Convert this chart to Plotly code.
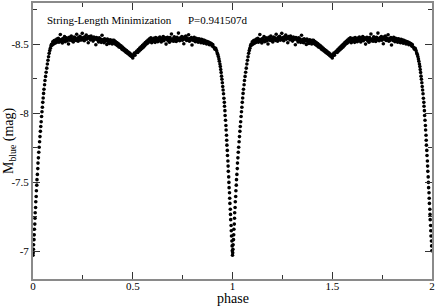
import plotly.graph_objects as go

# One cycle of the phased light curve (phase in [0,1)); repeated at phase+1 for the 2nd cycle
phase_cycle = [
    0.000, 0.001, 0.002, 0.003, 0.005, 0.006, 0.007, 0.009, 0.010, 0.011, 0.013, 0.014, 0.016, 0.017,
    0.019, 0.020, 0.022, 0.024, 0.025, 0.027, 0.029, 0.031, 0.033, 0.035, 0.037, 0.039, 0.041, 0.043,
    0.045, 0.047, 0.049, 0.051, 0.053, 0.055, 0.058, 0.060, 0.063, 0.066, 0.069, 0.072, 0.075, 0.078,
    0.081, 0.084, 0.087, 0.090, 0.093,
    0.096, 0.099, 0.103, 0.106, 0.110, 0.113, 0.117, 0.120, 0.123, 0.127, 0.130, 0.134, 0.137, 0.141,
    0.144, 0.147, 0.151, 0.154, 0.158, 0.161, 0.164, 0.168, 0.171, 0.175, 0.178, 0.182, 0.185, 0.188,
    0.192, 0.195, 0.199, 0.202, 0.206, 0.209, 0.212, 0.216, 0.219, 0.223, 0.226, 0.229, 0.233, 0.236,
    0.240, 0.243, 0.247, 0.250, 0.253, 0.257, 0.260, 0.264, 0.267, 0.270, 0.274, 0.277, 0.281, 0.284,
    0.288, 0.291, 0.294, 0.298, 0.301, 0.305, 0.308, 0.311, 0.315, 0.318, 0.322, 0.325, 0.329, 0.332,
    0.335, 0.339, 0.342, 0.346, 0.349, 0.352, 0.356, 0.359, 0.363, 0.366, 0.370, 0.373, 0.376, 0.380,
    0.383, 0.387, 0.390, 0.393, 0.397, 0.400,
    0.403, 0.406, 0.410, 0.413, 0.417, 0.420, 0.424, 0.427, 0.431, 0.434, 0.438, 0.441, 0.445, 0.448,
    0.452, 0.455, 0.459, 0.462, 0.466, 0.469, 0.473, 0.476, 0.480, 0.483, 0.487, 0.490, 0.494, 0.497,
    0.500, 0.502, 0.505, 0.508, 0.511, 0.514, 0.518, 0.521, 0.525, 0.528, 0.532, 0.535, 0.539, 0.542,
    0.546, 0.549, 0.553, 0.556, 0.560, 0.563, 0.567, 0.570, 0.574,
    0.577, 0.581, 0.584, 0.588, 0.591, 0.595, 0.598, 0.602, 0.605, 0.608, 0.612, 0.615, 0.619, 0.622,
    0.625, 0.629, 0.632, 0.636, 0.639, 0.643, 0.646, 0.649, 0.653, 0.656, 0.660, 0.663, 0.667, 0.670,
    0.674, 0.677, 0.680, 0.684, 0.687, 0.691, 0.694, 0.698, 0.701, 0.705, 0.708, 0.711, 0.715, 0.718,
    0.722, 0.725, 0.729, 0.732, 0.735, 0.739, 0.742, 0.746, 0.749, 0.753, 0.756, 0.759, 0.763, 0.766,
    0.770, 0.773, 0.777, 0.780, 0.784, 0.787, 0.790, 0.794, 0.797, 0.801, 0.804, 0.808, 0.811, 0.814,
    0.818, 0.821, 0.825, 0.828, 0.832, 0.835, 0.838, 0.842, 0.845, 0.849, 0.852, 0.856, 0.859, 0.863,
    0.866, 0.870, 0.873, 0.877, 0.880, 0.884, 0.887, 0.891, 0.894, 0.898, 0.901, 0.904,
    0.908, 0.912, 0.916, 0.920, 0.923, 0.926, 0.929, 0.932, 0.934, 0.937, 0.939, 0.941, 0.943, 0.945,
    0.947, 0.949, 0.951, 0.953, 0.955, 0.957, 0.959, 0.960, 0.962, 0.963, 0.965, 0.967, 0.968, 0.970,
    0.971, 0.972, 0.974, 0.975, 0.977, 0.978, 0.979, 0.981, 0.982, 0.983, 0.985, 0.986, 0.987, 0.989,
    0.990, 0.991, 0.993, 0.994, 0.995, 0.997, 0.998, 0.999,
]

mag_cycle = [
    -6.972, -6.990, -7.015, -7.048, -7.085, -7.120, -7.160, -7.198, -7.240, -7.280, -7.318, -7.360, -7.398, -7.440,
    -7.480, -7.520, -7.558, -7.600, -7.640, -7.678, -7.718, -7.755, -7.795, -7.832, -7.870, -7.905, -7.940, -7.978,
    -8.012, -8.045, -8.080, -8.112, -8.145, -8.175, -8.208, -8.238, -8.268, -8.298, -8.328, -8.358, -8.385, -8.410,
    -8.435, -8.455, -8.472, -8.488, -8.501,
    -8.495, -8.518, -8.502, -8.527, -8.509, -8.531, -8.514, -8.538, -8.521, -8.545, -8.516, -8.533, -8.572, -8.522,
    -8.537, -8.511, -8.543, -8.528, -8.556, -8.519, -8.534, -8.547, -8.525, -8.540, -8.503, -8.551, -8.530, -8.544,
    -8.560, -8.527, -8.541, -8.518, -8.553, -8.536, -8.548, -8.529, -8.574, -8.540, -8.523, -8.552, -8.538, -8.558,
    -8.531, -8.546, -8.580, -8.534, -8.549, -8.526, -8.555, -8.541, -8.568, -8.537, -8.550, -8.512, -8.557, -8.543,
    -8.533, -8.561, -8.539, -8.548, -8.524, -8.553, -8.536, -8.545, -8.498, -8.550, -8.533, -8.542, -8.518, -8.547,
    -8.530, -8.539, -8.515, -8.566, -8.527, -8.536, -8.512, -8.541, -8.524, -8.533, -8.500, -8.538, -8.521, -8.530,
    -8.507, -8.534, -8.518, -8.527, -8.503, -8.529,
    -8.512, -8.530, -8.505, -8.521, -8.498, -8.513, -8.491, -8.506, -8.482, -8.497, -8.478, -8.489, -8.466, -8.480,
    -8.459, -8.471, -8.452, -8.463, -8.444, -8.455, -8.436, -8.447, -8.428, -8.439, -8.419, -8.430, -8.412, -8.421,
    -8.402, -8.418, -8.427, -8.438, -8.421, -8.438, -8.446, -8.452, -8.441, -8.463, -8.452, -8.474, -8.461, -8.483,
    -8.471, -8.494, -8.480, -8.503, -8.491, -8.514, -8.501, -8.522, -8.509,
    -8.531, -8.518, -8.540, -8.525, -8.547, -8.512, -8.536, -8.521, -8.544, -8.529, -8.515, -8.550, -8.533, -8.541,
    -8.520, -8.546, -8.527, -8.553, -8.535, -8.518, -8.544, -8.530, -8.557, -8.526, -8.540, -8.548, -8.502, -8.536,
    -8.552, -8.529, -8.543, -8.516, -8.549, -8.534, -8.575, -8.527, -8.541, -8.523, -8.555, -8.538, -8.547, -8.521,
    -8.551, -8.533, -8.582, -8.540, -8.526, -8.548, -8.535, -8.557, -8.530, -8.544, -8.505, -8.553, -8.538, -8.561,
    -8.528, -8.546, -8.535, -8.570, -8.523, -8.542, -8.531, -8.549, -8.496, -8.540, -8.528, -8.552, -8.533, -8.520,
    -8.545, -8.530, -8.538, -8.516, -8.541, -8.527, -8.535, -8.512, -8.537, -8.522, -8.531, -8.508, -8.529, -8.515,
    -8.524, -8.503, -8.521, -8.509, -8.517, -8.498, -8.512, -8.501, -8.507, -8.489, -8.499, -8.483,
    -8.478, -8.465, -8.471, -8.455, -8.440, -8.428, -8.412, -8.395, -8.378, -8.358, -8.340, -8.318, -8.296, -8.270,
    -8.248, -8.222, -8.195, -8.170, -8.142, -8.110, -8.080, -8.052, -8.020, -7.985, -7.950, -7.912, -7.880, -7.842,
    -7.805, -7.770, -7.732, -7.695, -7.655, -7.618, -7.580, -7.540, -7.500, -7.462, -7.425, -7.385, -7.348, -7.305,
    -7.268, -7.230, -7.188, -7.150, -7.112, -7.075, -7.040, -7.005,
]

cycles_shown = [0, 1]
x_tickvals = [0, 0.5, 1, 1.5, 2]
x_ticktext = ["0", "0.5", "1", "1.5", "2"]
y_tickvals = [-8.5, -8.0, -7.5, -7.0]
y_ticktext = ["-8.5", "-8", "-7.5", "-7"]
title_text = "String-Length Minimization"
period_text = "P=0.941507d"

xs, ys = [], []
for c in cycles_shown:
    xs += [p + c for p in phase_cycle]
    ys += mag_cycle

FONT = "Liberation Serif, Times New Roman, serif"
fig = go.Figure()
fig.add_trace(go.Scatter(
    x=xs, y=ys, mode="markers",
    marker=dict(size=3.6, color="black", line=dict(width=0)),
    showlegend=False, hoverinfo="skip",
))

axis_common = dict(
    showline=True, linecolor="#8a8a8a", linewidth=2, mirror="allticks",
    ticks="inside", ticklen=7, tickwidth=1, tickcolor="#333333",
    showgrid=False, zeroline=False,
    tickfont=dict(family=FONT, size=11, color="black"),
)

fig.update_xaxes(
    range=[0, 2], tickmode="array", tickvals=x_tickvals, ticktext=x_ticktext,
    ticklabelstandoff=-4,
    minor=dict(ticks="inside", ticklen=4, tickwidth=1, tickcolor="#333333",
               tickmode="linear", tick0=0, dtick=0.25, showgrid=False),
    **axis_common,
)
fig.update_yaxes(
    range=[-6.8, -8.8], tickmode="array", tickvals=y_tickvals, ticktext=y_ticktext,
    minor=dict(ticks="inside", ticklen=4, tickwidth=1, tickcolor="#333333",
               tickmode="linear", tick0=-8.5, dtick=0.25, showgrid=False),
    **axis_common,
)

fig.update_layout(
    width=436, height=307,
    margin=dict(l=33, r=4, t=1, b=28),
    paper_bgcolor="white", plot_bgcolor="white",
    font=dict(family=FONT, color="black"),
    annotations=[
        dict(text=title_text, x=0.030, y=0.939, xref="paper", yref="paper",
             xanchor="left", yanchor="middle", showarrow=False,
             font=dict(family=FONT, size=11, color="black")),
        dict(text=period_text, x=0.383, y=0.939, xref="paper", yref="paper",
             xanchor="left", yanchor="middle", showarrow=False,
             font=dict(family=FONT, size=11, color="black")),
        dict(text="phase", x=0.5, y=-0.072, xref="paper", yref="paper",
             xanchor="center", yanchor="middle", showarrow=False,
             font=dict(family=FONT, size=14, color="black")),
        dict(text="M<sub>blue</sub> (mag)", x=-0.060, y=0.5, xref="paper", yref="paper",
             xanchor="center", yanchor="middle", textangle=-90, showarrow=False,
             font=dict(family=FONT, size=14, color="black")),
    ],
)

fig.write_html("out.html", config={"displayModeBar": False},
               post_script="document.body.style.margin='0';document.body.style.overflow='hidden';")
